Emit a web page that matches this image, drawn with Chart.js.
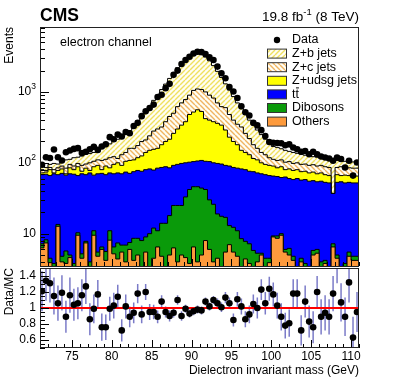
<!DOCTYPE html>
<html>
<head>
<meta charset="utf-8">
<script src="https://cdn.jsdelivr.net/npm/chart.js@4.4.0/dist/chart.umd.min.js"></script>
<style>
html, body { margin: 0; padding: 0; background: #fff; }
#wrap { position: relative; width: 399px; height: 383px; }
#mainBox { position: absolute; left: 0; top: 0; width: 399px; height: 270px; }
#ratioBox { position: absolute; left: 0; top: 262px; width: 399px; height: 121px; }
</style>
</head>
<body>
<div id="wrap">
  <div id="mainBox"><canvas id="mainChart"></canvas></div>
  <div id="ratioBox"><canvas id="ratioChart"></canvas></div>
</div>
<script>
// binning: 80 bins of 0.5 GeV between 71 and 111 GeV
const massMin = 71, massMax = 111, binWidth = 0.5;
const yMin = 3.5, yMax = 8240;
const ratioMin = 0.5, ratioMax = 1.5;

const xTickLabels = [75, 80, 85, 90, 95, 100, 105, 110];
const yTickDecades = [10, 100, 1000];
const ratioTickLabels = [0.6, 0.8, 1, 1.2, 1.4];

// events per bin
const dataEvents = [
  94, 120, 117, 154, 120, 108, 141, 149, 157, 161,
  137, 143, 155, 168, 152, 170, 182, 230, 215, 250,
  235, 272, 261, 330, 366, 455, 534, 594, 662, 846,
  913, 1130, 1300, 1740, 2000, 2480, 2820, 3140, 3490, 3690,
  3650, 3420, 3070, 2820, 2275, 1830, 1560, 1170, 1015, 820,
  627, 517, 465, 366, 337, 289, 239, 197, 192, 190,
  189, 177, 182, 164, 155, 143, 147, 132, 143, 132,
  123, 119, 115, 107, 119, 113, 86, 107, 66, 101
];

// stacked MC, top of each layer (cumulative, as drawn)
const stackOthers = [
  5.5, 6.3, 7.4, 3.9, 0, 12.7, 4.0, 3.8, 4.6, 0,
  9.5, 4.5, 7.4, 0, 9.5, 4.8, 6.0, 4.2, 8.1, 5.2,
  4.4, 5.5, 4.0, 6.0, 4.2, 5.0, 0, 5.5, 0, 4.5,
  6.5, 4.8, 0, 5.0, 6.3, 4.0, 5.0, 4.6, 3.8, 6.5,
  4.0, 5.0, 8.0, 6.0, 4.0, 4.5, 0, 5.5, 7.0, 5.5,
  4.8, 0, 4.4, 3.8, 0, 4.0, 5.0, 0, 3.9, 9.0,
  8.6, 9.5, 5.5, 5.0, 4.2, 0, 4.0, 0, 0, 5.0,
  5.3, 0, 3.8, 0, 6.5, 4.5, 0, 0, 4.8, 4.2
];
const stackDibosons = [
  5.8, 7.2, 8.2, 4.5, 3.8, 13.5, 4.8, 5.7, 5.0, 3.8,
  10.3, 5.2, 7.8, 4.0, 11.0, 5.5, 6.5, 5.6, 11.0, 6.5,
  7.4, 6.9, 6.9, 7.5, 8.6, 8.6, 8.0, 9.0, 10.0, 12.0,
  11.0, 14.0, 14.0, 18.0, 25.0, 25.0, 25.0, 33.0, 42.0, 46.0,
  46.0, 44.0, 42.0, 30.0, 26.0, 19.0, 17.6, 17.0, 13.0, 12.3,
  11.0, 8.5, 7.8, 7.2, 5.8, 5.3, 5.3, 4.5, 4.5, 9.3,
  9.3, 10.0, 6.0, 6.2, 4.8, 0, 4.5, 3.8, 0, 5.8,
  6.0, 4.0, 4.2, 0, 7.2, 5.0, 0, 3.8, 5.5, 4.8
];
const stackTTbar = [
  70, 68, 69, 66, 70, 68, 71, 67, 70, 69,
  66, 70, 68, 72, 67, 70, 71, 68, 72, 70,
  72, 70, 74, 71, 75, 78, 76, 80, 82, 79,
  84, 86, 88, 85, 92, 95, 98, 100, 102, 104,
  106, 108, 105, 104, 100, 98, 96, 92, 90, 86,
  84, 82, 80, 76, 75, 72, 70, 68, 66, 65,
  64, 62, 63, 60, 58, 60, 57, 58, 55, 56,
  54, 55, 53, 52, 37, 53, 54, 52, 53, 52
];
const stackZudsg = [
  76, 72, 74, 80, 72, 78, 82, 70, 85, 80,
  88, 76, 84, 78, 88, 92, 80, 90, 85, 95,
  100, 92, 105, 108, 110, 118, 125, 140, 150, 155,
  160, 180, 200, 215, 260, 300, 340, 380, 480, 520,
  560, 530, 420, 400, 380, 360, 340, 290, 230, 200,
  180, 150, 140, 130, 115, 110, 100, 95, 92, 90,
  85, 88, 80, 82, 78, 80, 75, 76, 72, 74,
  70, 72, 68, 66, 37, 68, 66, 67, 66, 65
];
const stackZc = [
  82, 80, 78, 86, 80, 85, 90, 84, 95, 90,
  98, 92, 96, 100, 105, 110, 108, 112, 118, 122,
  115, 130, 140, 160, 160, 175, 200, 210, 240, 280,
  300, 320, 380, 450, 500, 620, 700, 780, 900, 1050,
  1100, 1080, 1000, 900, 820, 700, 620, 600, 480, 400,
  350, 320, 260, 220, 180, 160, 140, 130, 118, 112,
  108, 110, 102, 104, 98, 100, 95, 96, 92, 94,
  90, 92, 88, 86, 37, 86, 88, 84, 85, 84
];
const stackZb = [
  85, 88, 86, 95, 98, 96, 105, 110, 112, 118,
  120, 125, 132, 135, 140, 150, 160, 172, 185, 200,
  215, 232, 255, 285, 330, 390, 460, 540, 630, 760,
  900, 1080, 1290, 1550, 1850, 2200, 2600, 2950, 3250, 3400,
  3450, 3350, 3100, 2750, 2350, 1950, 1600, 1300, 1060, 860,
  700, 580, 480, 400, 340, 290, 250, 215, 190, 170,
  165, 158, 150, 145, 140, 136, 132, 128, 125, 122,
  120, 118, 115, 112, 110, 108, 106, 105, 104, 103
];

// Data/MC
const ratioValues = [
  1.21, 1.34, 1.31, 1.15, 1.06, 1.19, 0.89, 1.16, 1.04, 1.06,
  1.16, 1.27, 0.86, 0.99, 1.17, 0.76, 0.76, 0.99, 1.03, 1.14,
  0.72, 1.02, 0.89, 0.94, 1.18, 0.92, 1.20, 0.95, 0.95, 0.89,
  1.08, 0.95, 0.90, 0.94, 1.10, 0.90, 0.99, 0.93, 0.96, 0.98,
  0.97, 1.08, 1.02, 1.10, 1.06, 1.01, 1.13, 1.06, 0.85, 1.11,
  1.02, 0.86, 0.92, 1.05, 1.00, 1.23, 1.06, 1.24, 1.17, 1.03,
  0.89, 0.78, 0.81, 1.18, 1.18, 0.72, 1.08, 0.83, 0.76, 1.20,
  0.89, 0.94, 0.89, 1.18, 1.55, 1.07, 0.89, 1.32, 0.63, 0.95
];
const ratioErrors = [
  0.25, 0.25, 0.24, 0.23, 0.22, 0.22, 0.20, 0.22, 0.20, 0.20,
  0.20, 0.22, 0.20, 0.18, 0.18, 0.17, 0.16, 0.15, 0.16, 0.15,
  0.14, 0.15, 0.13, 0.13, 0.12, 0.11, 0.10, 0.10, 0.09, 0.08,
  0.08, 0.07, 0.07, 0.06, 0.06, 0.06, 0.05, 0.05, 0.05, 0.05,
  0.05, 0.05, 0.05, 0.05, 0.06, 0.06, 0.07, 0.07, 0.08, 0.09,
  0.10, 0.10, 0.11, 0.12, 0.13, 0.13, 0.14, 0.15, 0.15, 0.16,
  0.17, 0.16, 0.17, 0.18, 0.18, 0.19, 0.20, 0.20, 0.20, 0.20,
  0.22, 0.22, 0.22, 0.22, 0.24, 0.24, 0.24, 0.25, 0.26, 0.25
];

const FONT = '"Liberation Sans", Arial, Helvetica, sans-serif';
const colOthers = '#fd9a3c', colDib = '#0a9a0a', colTT = '#0000ff', colUdsg = '#ffff00';

function binCenter(i) { return massMin + (i + 0.5) * binWidth; }

// points on bin edges for a step outline; values under the axis floor go below the frame
function stepPoints(values) {
  const pts = values.map((v, i) => ({ x: massMin + i * binWidth, y: Math.max(v, 1) }));
  pts.push({ x: massMax, y: Math.max(values[values.length - 1], 1) });
  return pts;
}

function hatch(fg, flip) {
  const c = document.createElement('canvas');
  c.width = 5; c.height = 5;
  const g = c.getContext('2d');
  g.fillStyle = '#fffef4';
  g.fillRect(0, 0, 5, 5);
  g.strokeStyle = fg;
  g.lineWidth = 1.4;
  g.beginPath();
  for (let k = -5; k <= 10; k += 5) {
    if (flip) { g.moveTo(k, 0); g.lineTo(k + 5, 5); }
    else { g.moveTo(k, 5); g.lineTo(k + 5, 0); }
  }
  g.stroke();
  return g.createPattern(c, 'repeat');
}
const patZb = hatch('#efe060', false);
const patZc = hatch('#f0b462', true);

function layer(label, values, fill) {
  return {
    label: label,
    data: stepPoints(values),
    stepped: 'after',
    fill: 'start',
    backgroundColor: fill,
    borderColor: '#000',
    borderWidth: 1,
    pointRadius: 0
  };
}

const legendItems = [
  { text: 'Data', marker: true },
  { text: 'Z+b jets', fill: patZb },
  { text: 'Z+c jets', fill: patZc },
  { text: 'Z+udsg jets', fill: colUdsg },
  { text: 'tt', fill: colTT, bar: true },
  { text: 'Dibosons', fill: colDib },
  { text: 'Others', fill: colOthers }
];

function drawPow(ctx, exp, xRight, yMid) {
  ctx.textBaseline = 'middle';
  ctx.textAlign = 'left';
  ctx.font = '12px ' + FONT;
  const wBase = ctx.measureText('10').width;
  let wExp = 0;
  if (exp > 1) {
    ctx.font = '8.5px ' + FONT;
    wExp = ctx.measureText(String(exp)).width;
  }
  const x0 = xRight - wBase - wExp;
  ctx.font = '12px ' + FONT;
  ctx.fillText('10', x0, yMid);
  if (exp > 1) {
    ctx.font = '8.5px ' + FONT;
    ctx.fillText(String(exp), x0 + wBase, yMid - 5);
  }
}

const mainDecor = {
  id: 'mainDecor',
  afterDraw(chart) {
    const { ctx, chartArea: a } = chart;
    const x = chart.scales.x, y = chart.scales.y;
    ctx.save();
    ctx.strokeStyle = '#000';
    ctx.lineWidth = 1;
    ctx.beginPath();
    for (let d = 1; d <= 1000; d *= 10) {
      for (let k = 1; k <= 9; k++) {
        const v = k * d;
        if (v < yMin || v > yMax) continue;
        const py = Math.round(y.getPixelForValue(v)) + 0.5;
        ctx.moveTo(a.left, py);
        ctx.lineTo(a.left + (k === 1 ? 9 : 5), py);
      }
    }
    for (let m = Math.ceil(massMin); m <= massMax; m++) {
      const px = Math.round(x.getPixelForValue(m)) + 0.5;
      ctx.moveTo(px, a.bottom);
      ctx.lineTo(px, a.bottom - (m % 5 === 0 ? 7 : 4));
    }
    ctx.stroke();
    ctx.strokeStyle = '#222';
    ctx.strokeRect(a.left + 0.5, a.top + 0.5, a.right - a.left - 1, a.bottom - a.top);

    ctx.fillStyle = '#000';
    yTickDecades.forEach(v => {
      drawPow(ctx, Math.round(Math.log10(v)), a.left - 4, y.getPixelForValue(v));
    });

    // titles
    ctx.textBaseline = 'alphabetic';
    ctx.textAlign = 'left';
    ctx.font = 'bold 17.5px ' + FONT;
    ctx.fillText('CMS', a.left, 21);
    ctx.font = '13.5px ' + FONT;
    const parts = ['19.8 fb', '-1', ' (8 TeV)'];
    const w0 = ctx.measureText(parts[0]).width;
    const w2 = ctx.measureText(parts[2]).width;
    ctx.font = '9.5px ' + FONT;
    const w1 = ctx.measureText(parts[1]).width;
    let tx = a.right - w0 - w1 - w2;
    ctx.font = '13.5px ' + FONT;
    ctx.fillText(parts[0], tx, 21);
    ctx.font = '9.5px ' + FONT;
    ctx.fillText(parts[1], tx + w0, 15);
    ctx.font = '13.5px ' + FONT;
    ctx.fillText(parts[2], tx + w0 + w1, 21);

    ctx.font = '12.5px ' + FONT;
    ctx.fillText('electron channel', 60, 46);

    ctx.save();
    ctx.translate(10, a.top);
    ctx.rotate(-Math.PI / 2);
    ctx.textAlign = 'right';
    ctx.textBaseline = 'middle';
    ctx.font = '12px ' + FONT;
    ctx.fillText('Events', 0, 0);
    ctx.restore();

    // legend
    ctx.font = '12.5px ' + FONT;
    ctx.textBaseline = 'middle';
    legendItems.forEach((it, i) => {
      const cy = 40 + i * 13.6;
      if (it.marker) {
        ctx.beginPath();
        ctx.arc(277, cy, 3.2, 0, Math.PI * 2);
        ctx.fillStyle = '#000';
        ctx.fill();
      } else {
        ctx.fillStyle = it.fill;
        ctx.fillRect(267, cy - 4.5, 20, 9);
        ctx.strokeStyle = '#333';
        ctx.strokeRect(267.5, cy - 4.5, 19, 9);
      }
      ctx.fillStyle = '#000';
      ctx.fillText(it.text, 292, cy);
      if (it.bar) {
        const wt = ctx.measureText('t').width;
        ctx.beginPath();
        ctx.moveTo(292 + wt + 0.5, cy - 6.5);
        ctx.lineTo(292 + 2 * wt, cy - 6.5);
        ctx.lineWidth = 1;
        ctx.strokeStyle = '#000';
        ctx.stroke();
      }
    });
    ctx.restore();
  }
};

const ratioDecor = {
  id: 'ratioDecor',
  beforeDatasetsDraw(chart) {
    const { ctx, chartArea: a } = chart;
    const x = chart.scales.x, y = chart.scales.y;
    ctx.save();
    ctx.beginPath();
    ctx.rect(a.left, a.top, a.right - a.left, a.bottom - a.top);
    ctx.clip();
    ctx.strokeStyle = 'rgba(100, 100, 190, 0.85)';
    ctx.lineWidth = 1.5;
    ctx.beginPath();
    ratioValues.forEach((r, i) => {
      const px = x.getPixelForValue(binCenter(i));
      ctx.moveTo(px, y.getPixelForValue(r - ratioErrors[i]));
      ctx.lineTo(px, y.getPixelForValue(r + ratioErrors[i]));
    });
    ctx.stroke();
    ctx.restore();
  },
  afterDraw(chart) {
    const { ctx, chartArea: a } = chart;
    const x = chart.scales.x, y = chart.scales.y;
    ctx.save();
    ctx.strokeStyle = '#000';
    ctx.lineWidth = 1;
    ctx.beginPath();
    for (let k = 0; k <= 20; k++) {
      const v = ratioMin + k * 0.05;
      const py = Math.round(y.getPixelForValue(v)) + 0.5;
      const major = Math.abs((v * 10) % 2) < 1e-6 || Math.abs((v * 10) % 2 - 2) < 1e-6;
      ctx.moveTo(a.left, py);
      ctx.lineTo(a.left + (major ? 9 : 5), py);
    }
    for (let m = Math.ceil(massMin); m <= massMax; m++) {
      const px = Math.round(x.getPixelForValue(m)) + 0.5;
      ctx.moveTo(px, a.bottom);
      ctx.lineTo(px, a.bottom - (m % 5 === 0 ? 8 : 4));
    }
    ctx.stroke();
    ctx.strokeStyle = '#222';
    ctx.strokeRect(a.left + 0.5, a.top + 0.5, a.right - a.left - 1, a.bottom - a.top - 1);

    ctx.fillStyle = '#000';
    ctx.font = '12px ' + FONT;
    ctx.textAlign = 'right';
    ctx.textBaseline = 'middle';
    ratioTickLabels.forEach(v => {
      ctx.fillText(String(v), a.left - 4, y.getPixelForValue(v));
    });
    ctx.textAlign = 'center';
    xTickLabels.forEach(v => {
      ctx.fillText(String(v), x.getPixelForValue(v), a.bottom + 9);
    });
    ctx.textAlign = 'right';
    ctx.fillText('Dielectron invariant mass (GeV)', a.right, a.bottom + 23);

    ctx.translate(10, a.top);
    ctx.rotate(-Math.PI / 2);
    ctx.textAlign = 'right';
    ctx.fillText('Data/MC', 0, 0);
    ctx.restore();
  }
};

const baseOptions = {
  responsive: true,
  maintainAspectRatio: false,
  animation: false,
  events: [],
  plugins: { legend: { display: false }, tooltip: { enabled: false } }
};

new Chart(document.getElementById('mainChart'), {
  type: 'line',
  data: {
    datasets: [
      {
        label: 'Data',
        data: dataEvents.map((v, i) => ({ x: binCenter(i), y: v })),
        showLine: false,
        pointRadius: 3.3,
        pointBorderWidth: 0,
        pointBackgroundColor: '#000',
        borderColor: '#000'
      },
      layer('Others', stackOthers, colOthers),
      layer('Dibosons', stackDibosons, colDib),
      layer('tt', stackTTbar, colTT),
      layer('Z+udsg jets', stackZudsg, colUdsg),
      layer('Z+c jets', stackZc, patZc),
      layer('Z+b jets', stackZb, patZb)
    ]
  },
  options: Object.assign({}, baseOptions, {
    layout: { padding: { left: 40, right: 40, top: 27, bottom: 2 } },
    scales: {
      x: { type: 'linear', min: massMin, max: massMax, display: false },
      y: { type: 'logarithmic', min: yMin, max: yMax, display: false }
    }
  }),
  plugins: [mainDecor]
});

new Chart(document.getElementById('ratioChart'), {
  type: 'line',
  data: {
    datasets: [
      {
        label: 'Data/MC',
        data: ratioValues.map((r, i) => ({ x: binCenter(i), y: r })),
        showLine: false,
        pointRadius: 3.3,
        pointBorderWidth: 0,
        pointBackgroundColor: '#000',
        borderColor: '#000'
      },
      {
        label: 'unity',
        data: [{ x: massMin, y: 1 }, { x: massMax, y: 1 }],
        borderColor: '#ff0000',
        borderWidth: 2,
        pointRadius: 0
      }
    ]
  },
  options: Object.assign({}, baseOptions, {
    layout: { padding: { left: 40, right: 40, top: 6, bottom: 35 } },
    scales: {
      x: { type: 'linear', min: massMin, max: massMax, display: false },
      y: { type: 'linear', min: ratioMin, max: ratioMax, display: false }
    }
  }),
  plugins: [ratioDecor]
});
</script>
</body>
</html>
